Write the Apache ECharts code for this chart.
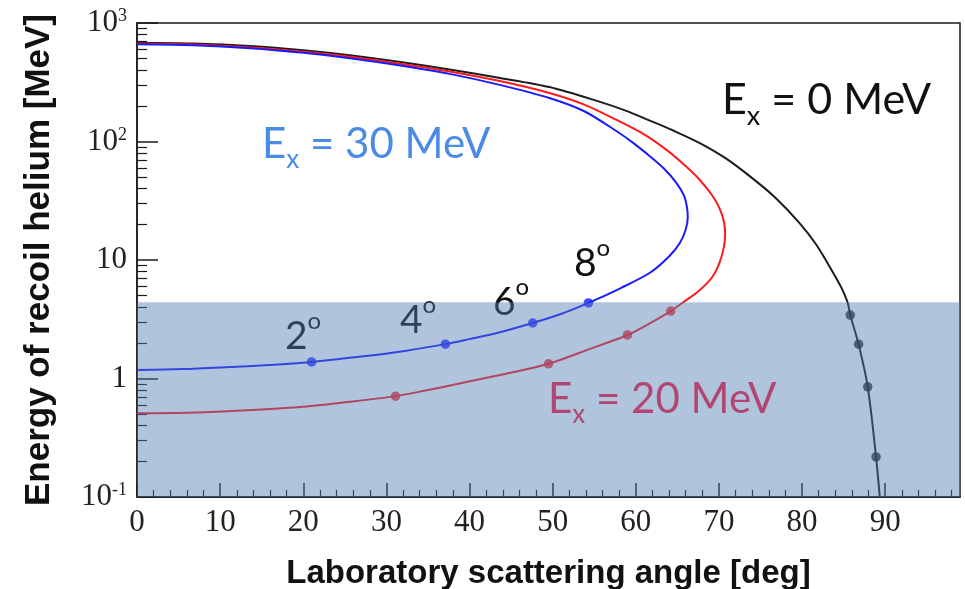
<!DOCTYPE html>
<html>
<head>
<meta charset="utf-8">
<script src="https://cdn.jsdelivr.net/npm/echarts@6/dist/echarts.min.js"></script>
<style>
  html, body { margin: 0; padding: 0; background: #ffffff; }
  #chart { width: 965px; height: 589px; }
</style>
</head>
<body>
<div id="chart"></div>
<script>
// Recoil helium energy [MeV] versus laboratory scattering angle [deg]
// for three excitation energies of the partner nucleus.

// E_x = 0 MeV : single branch falling to zero near 90 deg
const curveEx0 = [
  [0, 682], [6.8, 672], [13.6, 640], [20, 590], [25.6, 535], [31.5, 470],
  [37.6, 405], [43.5, 345], [49.6, 288], [55.7, 216], [58.7, 183],
  [61.7, 150], [64.7, 122], [67.7, 97], [70.7, 73], [73.7, 51],
  [76.7, 34], [79.7, 20.5], [81.7, 13.5], [83.7, 7.9], [84.7, 5.9],
  [85.5, 4.34], [85.8, 3.43], [86.8, 1.95], [87.9, 0.85], [88.9, 0.218],
  [89.35, 0.1]
];

// E_x = 20 MeV : upper branch out to the maximum angle, then the lower branch back to 0 deg
const curveEx20 = [
  [0, 670], [6.8, 658], [13.6, 622], [20, 572], [25.6, 520], [31.5, 455],
  [37.6, 390], [43.5, 325], [49.6, 257], [53.8, 205], [57.7, 152],
  [61, 115], [63.7, 85], [66, 62], [67.7, 47.3], [69.2, 35], [70.1, 27],
  [70.6, 21], [70.75, 16.5], [70.6, 12.9], [70.1, 9.6], [69.2, 7.19],
  [67.6, 5.5], [65.6, 4.34], [64.2, 3.71], [61.8, 2.95], [59.0, 2.33],
  [54.5, 1.78], [49.5, 1.33], [44.5, 1.1], [39.2, 0.92], [35, 0.8],
  [31.1, 0.71], [25, 0.63], [19.6, 0.575], [12, 0.535], [6, 0.515], [0, 0.51]
];

// E_x = 30 MeV : same shape, turning around at a smaller angle
const curveEx30 = [
  [0, 661], [6.8, 648], [13.6, 612], [20, 560], [25.6, 505], [31.5, 440],
  [37.6, 372], [43.5, 302], [49.6, 233], [53.8, 180], [57.7, 122],
  [59.8, 96], [61.7, 75], [63.5, 58], [64.9, 44.6], [65.8, 35],
  [66.15, 28], [66.25, 23], [66.0, 18], [65.3, 13.9], [64, 10.7],
  [61.7, 7.8], [58.2, 5.8], [54.3, 4.34], [51, 3.5], [47.6, 2.94],
  [43.3, 2.42], [40, 2.15], [37.1, 1.95], [32, 1.7], [27, 1.53],
  [21.0, 1.38], [16, 1.3], [11.2, 1.25], [5.5, 1.2], [0, 1.18]
];

// Marked points on each curve
const dotsEx0 = [[85.8, 3.43], [86.8, 1.95], [87.9, 0.85], [88.9, 0.218]];
const dotsEx20 = [[31.1, 0.71], [49.5, 1.33], [59.0, 2.33], [64.2, 3.71]];
const dotsEx30 = [[21.0, 1.38], [37.1, 1.95], [47.6, 2.94], [54.3, 4.34]];

// Detectable window: energies below this threshold are shaded
const shadeLowMeV = 0.1;
const shadeHighMeV = 4.4;
const angleMin = 0;
const angleMax = 99;

// Axis ticks
const xMajorTicks = [0, 10, 20, 30, 40, 50, 60, 70, 80, 90];
const xMinorTicks = [2, 4, 6, 8, 12, 14, 16, 18, 22, 24, 26, 28, 32, 34, 36, 38,
  42, 44, 46, 48, 52, 54, 56, 58, 62, 64, 66, 68, 72, 74, 76, 78, 82, 84, 86, 88,
  92, 94, 96, 98];
const yMajorTicks = [0.1, 1, 10, 100, 1000];
const yMinorTicks = [0.2, 0.3, 0.4, 0.5, 0.6, 0.7, 0.8, 0.9,
  2, 3, 4, 5, 6, 7, 8, 9, 20, 30, 40, 50, 60, 70, 80, 90,
  200, 300, 400, 500, 600, 700, 800, 900];

const serif = '"Liberation Serif", "DejaVu Serif", serif';
const sans = '"Liberation Sans", Arial, sans-serif';
const labelFont = 'Lato, "Open Sans", sans-serif';
const axisColor = '#1a1a1a';

function yLabel(v) {
  if (Math.abs(v - 1) < 1e-9) return '{n|1}';
  if (Math.abs(v - 10) < 1e-9) return '{n|10}';
  const e = Math.round(Math.log10(v));
  return '{n|10}{s|' + e + '}';
}

function lineSeries(data, color) {
  return {
    type: 'line', data: data, smooth: 0.3, showSymbol: false, z: 2,
    lineStyle: { color: color, width: 2 }, itemStyle: { color: color },
    silent: true, animation: false
  };
}
function dotSeries(data, color) {
  return {
    type: 'scatter', data: data, symbolSize: 9.5, z: 3,
    itemStyle: { color: color }, silent: true, animation: false
  };
}

function richLabel(left, top, main, color, size) {
  return {
    type: 'text', left: left, top: top, z: 1,
    style: {
      text: main, fill: color, font: size + 'px ' + labelFont,
      rich: {
        m: { fontFamily: labelFont, fontSize: size, fill: color, color: color, lineHeight: size * 1.2, verticalAlign: 'bottom' },
        sub: { fontFamily: labelFont, fontSize: Math.round(size * 0.62), fill: color, color: color, lineHeight: size * 1.2, verticalAlign: 'bottom', padding: [0, 0, -8, 0] },
        sup: { fontFamily: labelFont, fontSize: Math.round(size * 0.62), fill: color, color: color, lineHeight: size * 1.2, verticalAlign: 'top' }
      }
    }
  };
}

const chart = echarts.init(document.getElementById('chart'), null, { renderer: 'canvas' });

chart.setOption({
  animation: false,
  backgroundColor: '#ffffff',
  grid: {
    left: 137, right: 5, top: 23, bottom: 92, show: true,
    outerBoundsMode: 'none', containLabel: false,
    borderColor: axisColor, borderWidth: 1.5, backgroundColor: 'transparent'
  },
  xAxis: [
    {
      type: 'value', min: angleMin, max: angleMax, position: 'bottom',
      name: 'Laboratory scattering angle [deg]', nameLocation: 'middle', nameGap: 60,
      nameTextStyle: { fontFamily: sans, fontWeight: 'bold', fontSize: 33, color: '#111' },
      axisLine: { onZero: false, lineStyle: { color: axisColor, width: 1.5 } },
      axisTick: { inside: true, length: 14, customValues: xMajorTicks, lineStyle: { color: axisColor, width: 1.5 } },
      axisLabel: { customValues: xMajorTicks, fontFamily: serif, fontSize: 31, color: '#222', margin: 10 },
      splitLine: { show: false }
    },
    {
      type: 'value', min: angleMin, max: angleMax, position: 'bottom',
      axisLine: { show: false, onZero: false },
      axisTick: { inside: true, length: 7, customValues: xMinorTicks, lineStyle: { color: axisColor, width: 1.2 } },
      axisLabel: { show: false },
      splitLine: { show: false }
    }
  ],
  yAxis: [
    {
      type: 'log', logBase: 10, min: 0.1, max: 1000, position: 'left',
      name: 'Energy of recoil helium [MeV]', nameLocation: 'middle', nameGap: 80,
      nameTextStyle: { fontFamily: sans, fontWeight: 'bold', fontSize: 35, color: '#111' },
      axisLine: { onZero: false, lineStyle: { color: axisColor, width: 1.5 } },
      axisTick: { inside: true, length: 21, customValues: yMajorTicks, lineStyle: { color: axisColor, width: 1.5 } },
      axisLabel: {
        customValues: yMajorTicks, formatter: yLabel, margin: 10,
        rich: {
          n: { fontFamily: serif, fontSize: 31, color: '#222', lineHeight: 31 },
          s: { fontFamily: serif, fontSize: 18, color: '#222', verticalAlign: 'top', lineHeight: 18 }
        }
      },
      splitLine: { show: false }
    },
    {
      type: 'log', logBase: 10, min: 0.1, max: 1000, position: 'left',
      axisLine: { show: false, onZero: false },
      axisTick: { inside: true, length: 10, customValues: yMinorTicks, lineStyle: { color: axisColor, width: 1.2 } },
      axisLabel: { show: false },
      splitLine: { show: false }
    }
  ],
  series: [
    lineSeries(curveEx0, '#1c1c1c'),
    lineSeries(curveEx20, '#ff1a1a'),
    lineSeries(curveEx30, '#1a1aff'),
    dotSeries(dotsEx0, '#1c1c1c'),
    dotSeries(dotsEx20, '#ff1a1a'),
    dotSeries(dotsEx30, '#1a1aff'),
    {
      // translucent band drawn over the curves, labels and axes
      type: 'line', data: [], z: 20, silent: true,
      markArea: {
        silent: true, z: 20,
        itemStyle: { color: 'rgba(79,124,182,0.45)', borderWidth: 0 },
        data: [[
          { coord: [angleMin, shadeLowMeV] },
          { coord: [angleMax, shadeHighMeV] }
        ]]
      }
    }
  ],
  graphic: [
    richLabel(262, 123, '{m|E}{sub|x}{m| = 30 MeV}', '#4a8be6', 42),
    richLabel(722, 79, '{m|E}{sub|x}{m| = 0 MeV}', '#111111', 43),
    richLabel(548, 378, '{m|E}{sub|x}{m| = 20 MeV}', '#ff1a3a', 42),
    richLabel(285, 309, '{m|2}{sup|o}', '#111111', 39),
    richLabel(400, 293, '{m|4}{sup|o}', '#111111', 39),
    richLabel(493, 275, '{m|6}{sup|o}', '#111111', 39),
    richLabel(574, 236, '{m|8}{sup|o}', '#111111', 39)
  ]
});
</script>
</body>
</html>
